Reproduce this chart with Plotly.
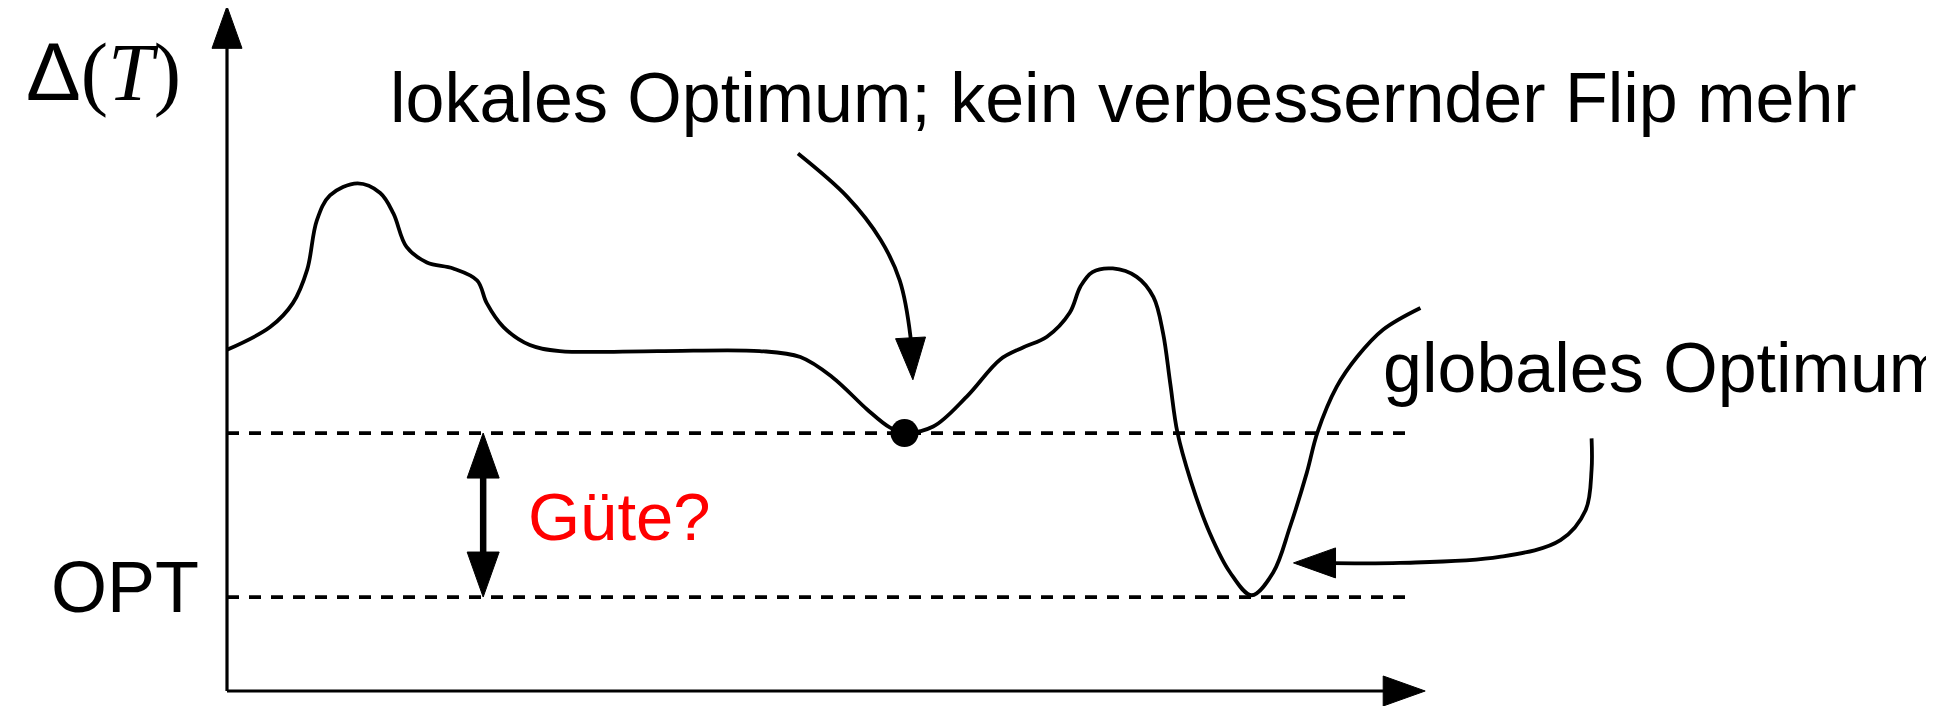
import math
import plotly.graph_objects as go

# ---- data (diagram units) ----
curve_x = [0.00, 0.36, 0.55, 0.67, 0.75, 0.86, 1.09, 1.28, 1.39, 1.50, 1.67, 1.89, 2.09, 2.17, 2.31,
           2.53, 2.78, 3.60, 4.45, 4.79, 5.06, 5.35, 5.54, 5.66, 5.90, 6.18, 6.46, 6.65, 6.85, 7.04,
           7.13, 7.23, 7.40, 7.60, 7.74, 7.82, 7.88, 7.94, 8.05, 8.21, 8.38, 8.56, 8.74, 8.88, 9.02,
           9.11, 9.27, 9.44, 9.66, 9.97]
curve_y = [2.85, 3.04, 3.24, 3.52, 3.93, 4.14, 4.24, 4.16, 3.99, 3.71, 3.58, 3.53, 3.43, 3.24, 3.04,
           2.89, 2.84, 2.84, 2.84, 2.79, 2.62, 2.35, 2.20, 2.16, 2.21, 2.46, 2.77, 2.87, 2.96, 3.16,
           3.38, 3.50, 3.53, 3.46, 3.29, 2.99, 2.57, 2.16, 1.76, 1.32, 0.99, 0.80, 0.99, 1.37, 1.82,
           2.16, 2.54, 2.79, 3.02, 3.20]

opt_level = 0.785
local_level = 2.155
dash_end = 9.91
x_axis_end = 10.01
y_axis_end = 5.72

local_opt_point = (5.66, 2.155)
local_arrow_x = [4.77, 5.18, 5.46, 5.62, 5.71, 5.73]
local_arrow_y = [4.49, 4.13, 3.77, 3.43, 2.96, 2.60]
global_arrow_x = [11.40, 11.40, 11.35, 11.14, 10.63, 9.80, 8.91]
global_arrow_y = [2.11, 1.85, 1.51, 1.26, 1.12, 1.07, 1.07]
gap_arrow_x = 2.14

labels = {
    "top": "lokales Optimum; kein verbessernder Flip mehr",
    "global": "globales Optimum",
    "opt": "OPT",
    "gap": "Güte?",
}

# ---- figure geometry ----
W, H = 1934, 706
UNIT = 119.7            # px per diagram unit
X0, Y0 = 219, 683       # pixel position of origin inside the figure (page adds 8px body margin)
xr = [-X0 / UNIT, (W - X0) / UNIT]
yr = [(Y0 - H) / UNIT, Y0 / UNIT]

FONT = "Liberation Sans, Arial, sans-serif"
BLACK = "black"
PX = 1.0 / UNIT
LW = 3.8

fig = go.Figure()


def add_head(tip, prev, length=42, half_w=15):
    dx, dy = tip[0] - prev[0], tip[1] - prev[1]
    n = math.hypot(dx, dy)
    ux, uy = dx / n, dy / n
    L, hw = length * PX, half_w * PX
    bx, by = tip[0] - ux * L, tip[1] - uy * L
    xs = [tip[0], bx - uy * hw, bx + uy * hw, tip[0]]
    ys = [tip[1], by + ux * hw, by - ux * hw, tip[1]]
    fig.add_trace(go.Scatter(x=xs, y=ys, mode="lines", fill="toself", fillcolor=BLACK,
                             line=dict(color=BLACK, width=1), hoverinfo="skip", showlegend=False))
    return (tip[0] - ux * L * 0.6, tip[1] - uy * L * 0.6)


def arrow_path(xs, ys, width=LW, shape="spline"):
    tip, prev = (xs[-1], ys[-1]), (xs[-2], ys[-2])
    end = add_head(tip, prev)
    fig.add_trace(go.Scatter(
        x=list(xs[:-1]) + [end[0]], y=list(ys[:-1]) + [end[1]], mode="lines",
        line=dict(color=BLACK, width=width, shape=shape, smoothing=1.0),
        hoverinfo="skip", showlegend=False))


# axes
arrow_path([0, x_axis_end], [0, 0], width=3.2, shape="linear")
arrow_path([0, 0], [0, y_axis_end], width=3.2, shape="linear")

# dashed levels
for lvl in (local_level, opt_level):
    fig.add_trace(go.Scatter(
        x=[0, dash_end], y=[lvl, lvl], mode="lines",
        line=dict(color=BLACK, width=3.8, dash="12px,10px"),
        hoverinfo="skip", showlegend=False))

# landscape curve
fig.add_trace(go.Scatter(
    x=curve_x, y=curve_y, mode="lines",
    line=dict(color=BLACK, width=LW, shape="spline", smoothing=1.0),
    hoverinfo="skip", showlegend=False))

# local optimum dot
fig.add_trace(go.Scatter(
    x=[local_opt_point[0]], y=[local_opt_point[1]], mode="markers",
    marker=dict(size=28, color=BLACK, line=dict(width=0)),
    hoverinfo="skip", showlegend=False))

# curved arrows
arrow_path(local_arrow_x, local_arrow_y)
arrow_path(global_arrow_x, global_arrow_y)

# double arrow (Güte)
e1 = add_head((gap_arrow_x, opt_level), (gap_arrow_x, local_level), length=45, half_w=16)
e2 = add_head((gap_arrow_x, local_level), (gap_arrow_x, opt_level), length=45, half_w=16)
fig.add_trace(go.Scatter(
    x=[e1[0], e2[0]], y=[e1[1], e2[1]], mode="lines",
    line=dict(color=BLACK, width=6.5), hoverinfo="skip", showlegend=False))

# labels
ann = []
ann.append(dict(x=-1.03, y=5.17, xref="x", yref="y",
                text="Δ<span style='font-family:Liberation Serif'>(<i>T</i>)</span>",
                showarrow=False, xanchor="center", yanchor="middle",
                font=dict(family=FONT, size=82, color=BLACK)))
ann.append(dict(x=-0.22, y=0.87, xref="x", yref="y", text=labels["opt"],
                showarrow=False, xanchor="right", yanchor="middle",
                font=dict(family=FONT, size=72, color=BLACK)))
ann.append(dict(x=7.49, y=4.95, xref="x", yref="y", text=labels["top"],
                showarrow=False, xanchor="center", yanchor="middle",
                font=dict(family=FONT, size=70, color=BLACK)))
ann.append(dict(x=9.64, y=2.70, xref="x", yref="y", text=labels["global"],
                showarrow=False, xanchor="left", yanchor="middle",
                font=dict(family=FONT, size=70, color=BLACK)))
ann.append(dict(x=2.50, y=1.46, xref="x", yref="y", text=labels["gap"],
                showarrow=False, xanchor="left", yanchor="middle",
                font=dict(family=FONT, size=67, color="red")))

fig.update_layout(
    width=W, height=H,
    margin=dict(l=0, r=0, t=0, b=0),
    paper_bgcolor="white", plot_bgcolor="white",
    xaxis=dict(range=xr, visible=False, fixedrange=True),
    yaxis=dict(range=yr, visible=False, fixedrange=True),
    annotations=ann, showlegend=False,
)

fig.write_html("out.html")
